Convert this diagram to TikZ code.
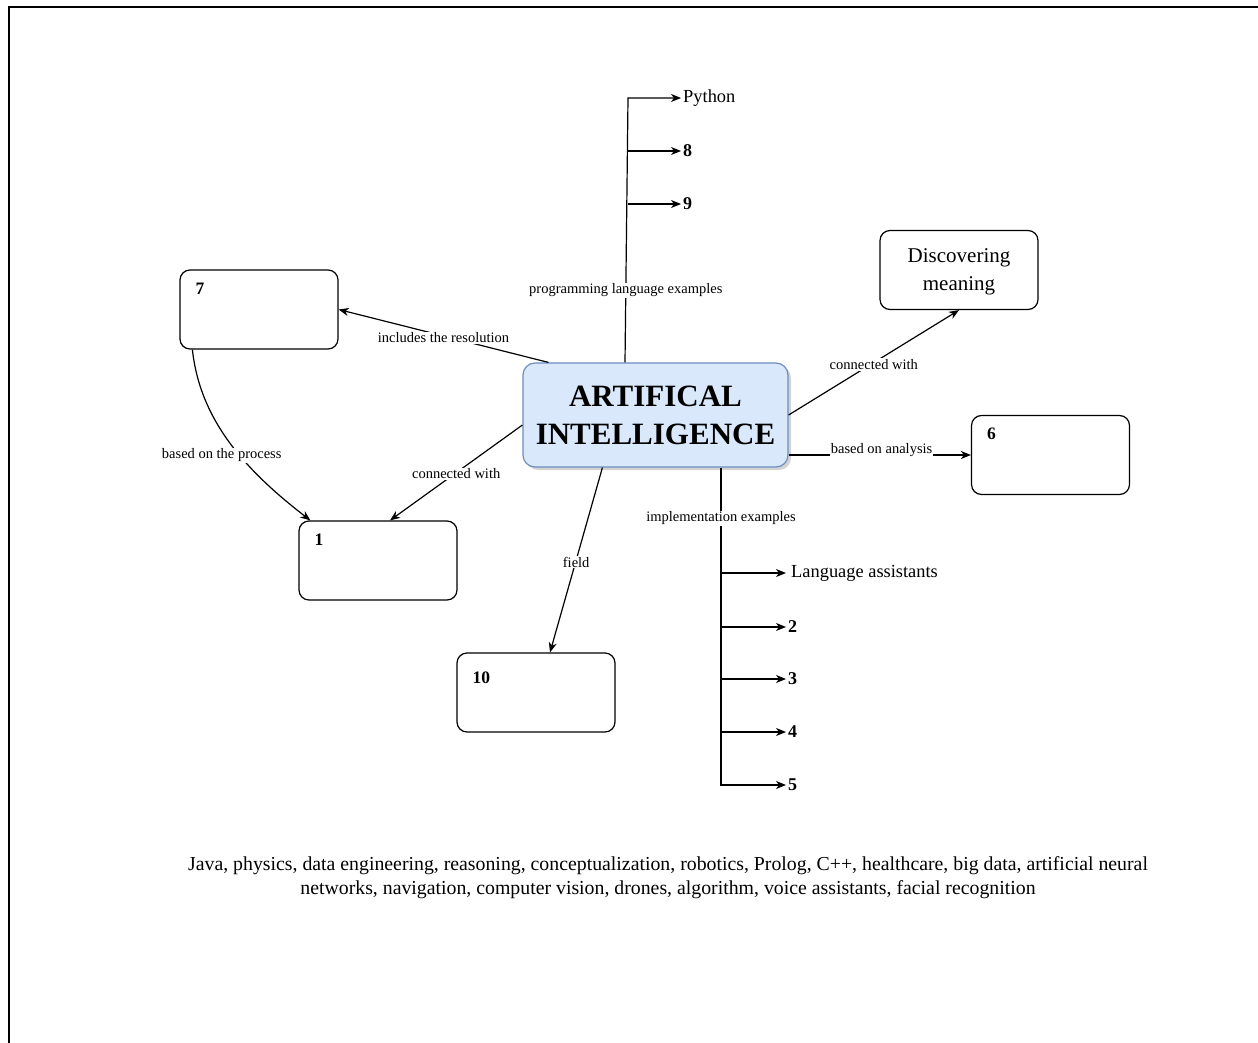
\documentclass[tikz,border=0pt]{standalone}
\usepackage{fontspec}
\setmainfont{Liberation Serif}
\usetikzlibrary{arrows.meta,shadows,calc}
\definecolor{aifill}{HTML}{DAE8FC}
\definecolor{aiedge}{HTML}{6C8EBF}
\begin{document}
\begin{tikzpicture}[x=1pt,y=-1pt,
  box/.style={draw,line width=1.2pt,rounded corners=10pt,minimum width=158pt,minimum height=79pt,inner sep=0pt},
  numbox/.style={box,label={[anchor=north west,inner sep=0pt,xshift=16pt,yshift=-13pt,font=\bfseries\fontsize{17.5}{20}\selectfont]north west:#1}},
  numboxlow/.style={box,label={[anchor=north west,inner sep=0pt,xshift=16pt,yshift=-19pt,font=\bfseries\fontsize{17.5}{20}\selectfont]north west:#1}},
  aibox/.style={draw=aiedge,fill=aifill,line width=1.2pt,rounded corners=12pt,minimum width=265pt,minimum height=104pt,align=center,font=\bfseries\fontsize{31}{38}\selectfont,drop shadow={shadow xshift=3pt,shadow yshift=-3pt,opacity=0.35,fill=gray}},
  elabel/.style={fill=white,inner sep=1pt,font=\fontsize{14.5}{16}\selectfont},
  arr/.style={line width=1.2pt,-{Stealth[length=10pt,width=8pt,inset=3pt]}},
  leaf/.style={anchor=west,inner sep=2pt,font=\fontsize{18.4}{20}\selectfont},
  numleaf/.style={anchor=west,inner sep=2pt,font=\bfseries\fontsize{18}{20}\selectfont}
]
\useasboundingbox (0,0) rectangle (1258,1043);
% frame
\draw[line width=1.8pt] (9,1043) -- (9,7) -- (1258,7);

% nodes
\node[aibox] (ai) at (655.5,415) {ARTIFICAL\\INTELLIGENCE};
\node[numbox=7] (b7) at (259,309.5) {};
\node[numbox=1] (b1) at (378,560.5) {};
\node[numboxlow=10] (b10) at (536,692.5) {};
\node[numbox=6] (b6) at (1050.5,455) {};
\node[box,align=center,font=\fontsize{21}{28}\selectfont,text depth=0pt] (disc) at (959,270) {Discovering\\meaning};

% programming language tree
\coordinate (tpy) at (628,98);
\coordinate (t8) at (628,151);
\coordinate (t9) at (628,204);
\node[leaf] (py) at (681,98) {Python};
\node[numleaf] (n8) at (681,151) {8};
\node[numleaf] (n9) at (681,204) {9};
\draw[arr] ($(ai.north)+(-30.5,0)$) -- node[elabel,pos=0.28,yshift=-2pt]{programming language examples} (tpy) -- (py);
\draw[arr] (t8) -- (n8);
\draw[arr] (t9) -- (n9);

% implementation tree
\coordinate (tla) at (721,573);
\coordinate (t2) at (721,627);
\coordinate (t3) at (721,679);
\coordinate (t4) at (721,732);
\coordinate (t5) at (721,785);
\node[leaf,inner sep=5pt] (la) at (786,573) {Language assistants};
\node[numleaf] (n2) at (786,627) {2};
\node[numleaf] (n3) at (786,679) {3};
\node[numleaf] (n4) at (786,732) {4};
\node[numleaf] (n5) at (786,785) {5};
\draw[arr] ($(ai.south)+(65.5,0)$) -- node[elabel,pos=0.154,yshift=-2pt]{implementation examples} (t5) -- (n5);
\draw[arr] (tla) -- (la);
\draw[arr] (t2) -- (n2);
\draw[arr] (t3) -- (n3);
\draw[arr] (t4) -- (n4);

% other connectors
\draw[arr] ($(ai.north west)+(26,0)$) -- node[elabel,yshift=-2pt]{includes the resolution} (b7.east);
\draw[arr] ($(ai.west)+(0,10)$) -- node[elabel,yshift=-1pt]{connected with} ($(b1.north)+(12,0)$);
\draw[arr] ($(b7.south west)+(13,0)$) .. controls (200,420) and (245,470) .. node[elabel,pos=0.5,xshift=-8pt,yshift=-13pt]{based on the process} ($(b1.north west)+(12,0)$);
\draw[arr] ($(ai.south west)+(80,0)$) -- node[elabel,yshift=-2pt]{field} ($(b10.north)+(14,0)$);
\draw[arr] (ai.east) -- node[elabel,yshift=-2pt]{connected with} (disc.south);
\draw[arr] (ai.east |- b6.west) -- node[elabel,pos=0.51,yshift=5pt]{based on analysis} (b6.west);

% word list
\node[align=center,font=\fontsize{19.8}{24}\selectfont] (words) at (668,878) {Java, physics, data engineering, reasoning, conceptualization, robotics, Prolog, C++, healthcare, big data, artificial neural\\networks, navigation, computer vision, drones, algorithm, voice assistants, facial recognition};
\end{tikzpicture}
\end{document}
